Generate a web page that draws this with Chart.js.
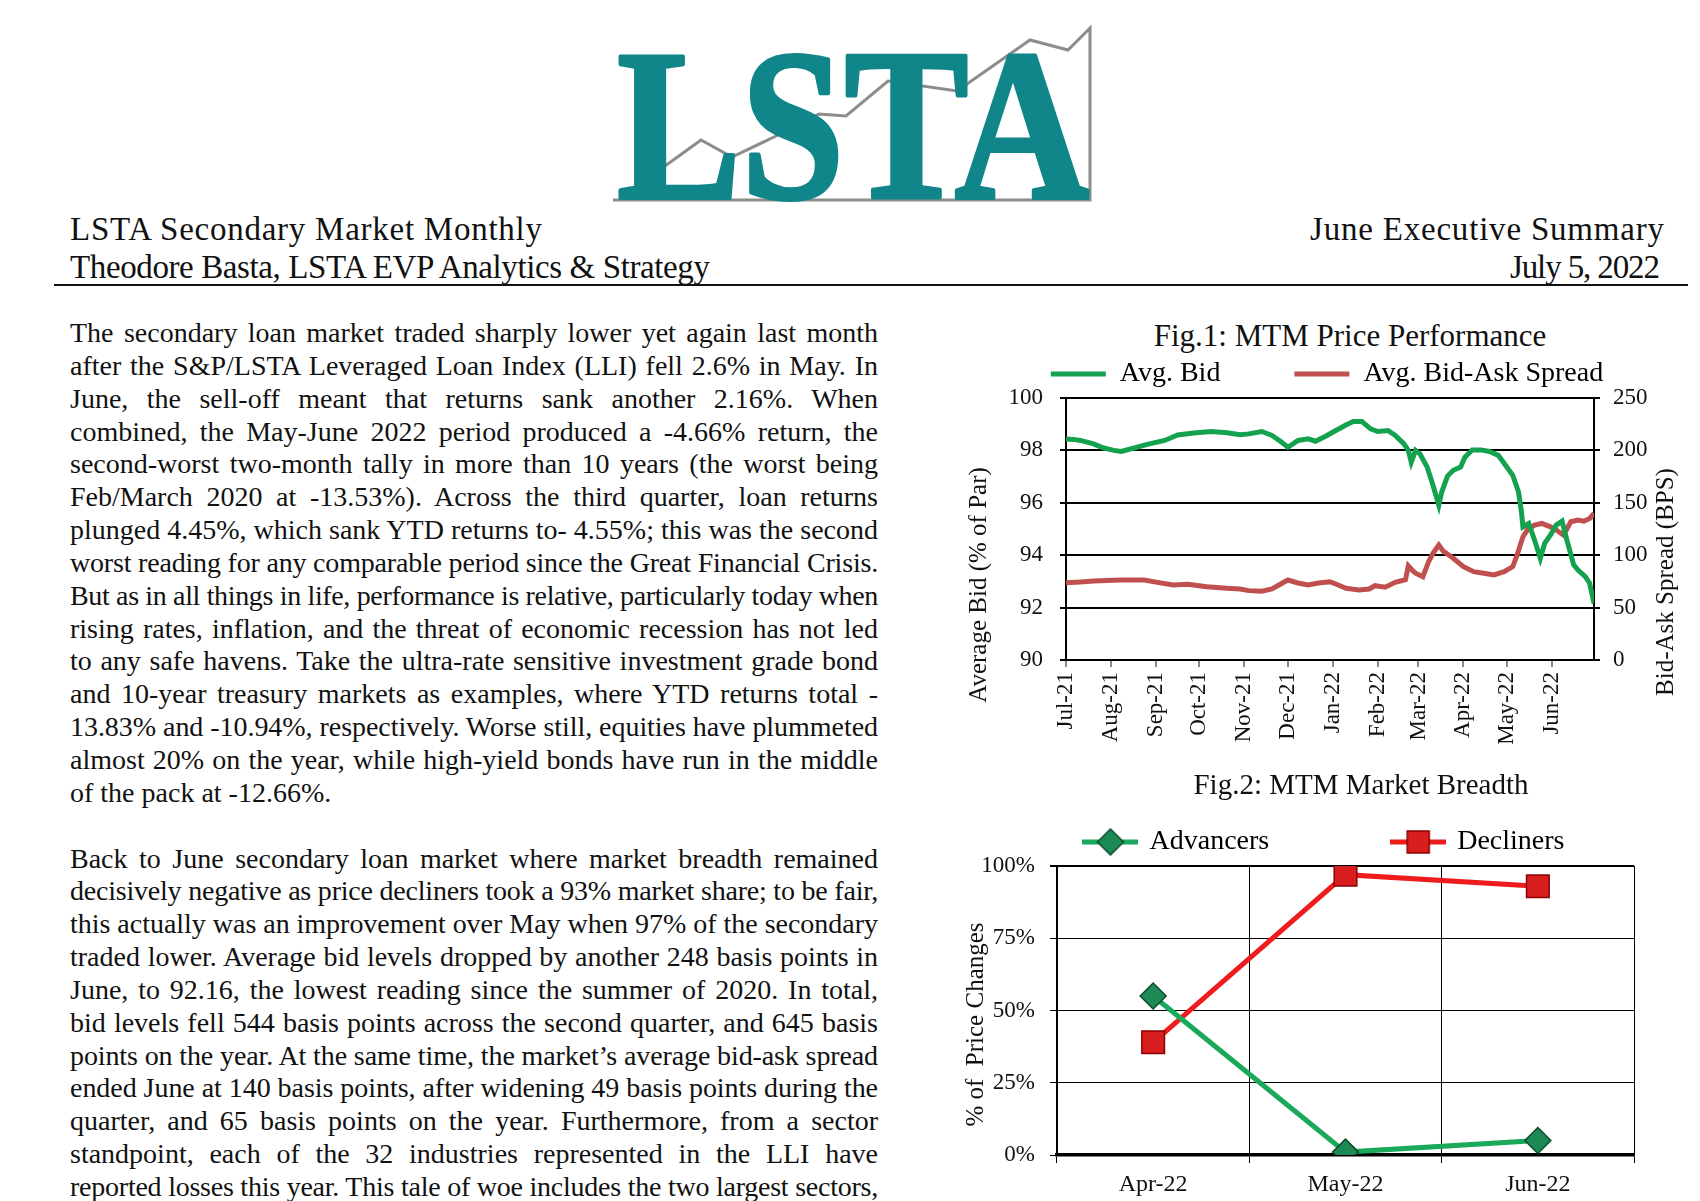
<!DOCTYPE html>
<html>
<head>
  <meta charset="utf-8">
  <title>LSTA Secondary Market Monthly</title>
  <script src="https://cdn.jsdelivr.net/npm/chart.js"></script>
  <style>
    body { margin: 0; width: 1700px; height: 1201px; position: relative; overflow: hidden; background: #fff;
           font-family: "Liberation Serif", "Times New Roman", serif; color: #111; }
    .abs { position: absolute; white-space: nowrap; }
    .head { font-size: 33px; line-height: 36px; }
    .rule { position: absolute; left: 54px; top: 284px; width: 1634px; height: 1.5px; background: #111; }
    .col { position: absolute; left: 70px; width: 808px; font-size: 28px; line-height: 32.85px; }
    .ln { height: 32.85px; white-space: nowrap; }
    .figtitle { position: absolute; white-space: nowrap; transform: translateX(-50%); }
    canvas { position: absolute; }
  </style>
</head>
<body>
  <svg class="abs" style="left:0;top:0" width="1700" height="215">
    <polyline points="665,166 701,140 732,157 774,137 819,114 846,116 888,81 957,91 1030,40 1068,50 1090,28 1090,200 613,200"
              fill="none" stroke="#8c8c8c" stroke-width="3"/>
    <text x="617" y="198" font-family="Liberation Serif" font-weight="bold" font-size="216" fill="#11868a"
          stroke="#11868a" stroke-width="4" stroke-linejoin="round"
          textLength="472" lengthAdjust="spacingAndGlyphs">LSTA</text>
  </svg>

  <div class="abs head" data-w="472" style="left:70px;top:211px"><span>LSTA Secondary Market Monthly</span></div>
  <div class="abs head" data-w="640" style="left:70px;top:249px"><span>Theodore Basta, LSTA EVP Analytics &amp; Strategy</span></div>
  <div class="abs head" data-w="354" style="left:1310px;top:211px"><span>June Executive Summary</span></div>
  <div class="abs head" data-w="150" style="left:1510px;top:249px"><span>July 5, 2022</span></div>
  <div class="rule"></div>

  <div class="col" id="para1" style="top:317px"></div>
  <div class="col" id="para2" style="top:842.5px"></div>

  <div class="figtitle" style="left:1350px;top:318px;font-size:31px">Fig.1: MTM Price Performance</div>
  <canvas id="priceChart" width="774" height="480" style="left:940px;top:290px"></canvas>

  <div class="figtitle" style="left:1361px;top:768px;font-size:29px">Fig.2: MTM Market Breadth</div>
  <canvas id="breadthChart" width="770" height="441" style="left:940px;top:760px"></canvas>

  <script>
    // ---- body text, line by line as in the original layout ----
    const para1 = [
      "The secondary loan market traded sharply lower yet again last month",
      "after the S&P/LSTA Leveraged Loan Index (LLI) fell 2.6% in May.  In",
      "June, the sell-off meant that returns sank another 2.16%.  When",
      "combined, the May-June 2022 period produced a -4.66% return, the",
      "second-worst two-month tally in more than 10 years (the worst being",
      "Feb/March 2020 at -13.53%).  Across the third quarter, loan returns",
      "plunged 4.45%, which sank YTD returns to- 4.55%; this was the second",
      "worst reading for any comparable period since the Great Financial Crisis.",
      "But as in all things in life, performance is relative, particularly today when",
      "rising rates, inflation, and the threat of economic recession has not led",
      "to any safe havens.  Take the ultra-rate sensitive investment grade bond",
      "and 10-year treasury markets as examples, where YTD returns total -",
      "13.83% and -10.94%, respectively.  Worse still, equities have plummeted",
      "almost 20% on the year, while high-yield bonds have run in the middle",
      "of the pack at -12.66%."
    ];
    const para2 = [
      "Back to June secondary loan market where market breadth remained",
      "decisively negative as price decliners took a 93% market share; to be fair,",
      "this actually was an improvement over May when 97% of the secondary",
      "traded lower.  Average bid levels dropped by another 248 basis points in",
      "June, to 92.16, the lowest reading since the summer of 2020.  In total,",
      "bid levels fell 544 basis points across the second quarter, and 645 basis",
      "points on the year.  At the same time, the market\u2019s average bid-ask spread",
      "ended June at 140 basis points, after widening 49 basis points during the",
      "quarter, and 65 basis points on the year.  Furthermore, from a sector",
      "standpoint, each of the 32 industries represented in the LLI have",
      "reported losses this year. This tale of woe includes the two largest sectors,"
    ];

    function setLines(id, lines, justifyLast) {
      const box = document.getElementById(id);
      lines.forEach((t, i) => {
        const d = document.createElement('div');
        d.className = 'ln';
        const s = document.createElement('span');
        s.textContent = t.replace(/  +/g, ' ');
        d.appendChild(s);
        box.appendChild(d);
        if (i === lines.length - 1 && !justifyLast) return;
        const extra = box.clientWidth - s.getBoundingClientRect().width;
        const spaces = (s.textContent.match(/ /g) || []).length;
        if (extra >= 0 && spaces) s.style.wordSpacing = (extra / spaces) + 'px';
        else s.style.letterSpacing = (extra / s.textContent.length) + 'px';
      });
    }
    setLines('para1', para1, false);
    setLines('para2', para2, true);

    // header lines are set a touch wider or tighter in the original
    document.querySelectorAll('.head').forEach(h => {
      const s = h.firstElementChild;
      const extra = +h.dataset.w - s.getBoundingClientRect().width;
      s.style.letterSpacing = (extra / (s.textContent.length - 1)) + 'px';
    });

    // ---- Fig.1 data: daily MTM readings (date, value) ----
    const axisStart = '2021-07-01';
    const axisEnd = '2022-06-30';
    const monthStarts = ['2021-07-01', '2021-08-01', '2021-09-01', '2021-10-01', '2021-11-01', '2021-12-01',
                         '2022-01-01', '2022-02-01', '2022-03-01', '2022-04-01', '2022-05-01', '2022-06-01'];
    const monthLabels = ['Jul-21', 'Aug-21', 'Sep-21', 'Oct-21', 'Nov-21', 'Dec-21',
                         'Jan-22', 'Feb-22', 'Mar-22', 'Apr-22', 'May-22', 'Jun-22'];

    const bidDates = [
      '2021-07-01', '2021-07-06', '2021-07-11', '2021-07-20', '2021-07-27', '2021-08-03', '2021-08-08',
      '2021-08-17', '2021-08-26', '2021-09-07', '2021-09-16', '2021-09-27', '2021-10-09', '2021-10-20',
      '2021-10-29', '2021-11-04', '2021-11-13', '2021-11-20', '2021-11-26', '2021-12-01', '2021-12-08',
      '2021-12-15', '2021-12-20', '2021-12-27', '2022-01-03', '2022-01-10', '2022-01-15', '2022-01-21',
      '2022-01-27', '2022-02-01', '2022-02-08', '2022-02-13', '2022-02-19', '2022-02-22', '2022-02-24',
      '2022-02-27', '2022-03-02', '2022-03-07', '2022-03-11', '2022-03-15', '2022-03-17', '2022-03-21',
      '2022-03-25', '2022-03-30', '2022-04-02', '2022-04-07', '2022-04-13', '2022-04-19', '2022-04-25',
      '2022-05-01', '2022-05-05', '2022-05-09', '2022-05-11', '2022-05-12', '2022-05-16', '2022-05-20',
      '2022-05-24', '2022-05-27', '2022-05-31', '2022-06-04', '2022-06-08', '2022-06-11', '2022-06-16',
      '2022-06-19', '2022-06-24', '2022-06-27', '2022-06-30'
    ];
    const bidValues = [
      98.44, 98.42, 98.38, 98.25, 98.09, 98.00, 97.96,
      98.09, 98.23, 98.38, 98.59, 98.66, 98.72, 98.67,
      98.60, 98.63, 98.72, 98.57, 98.34, 98.12, 98.38,
      98.44, 98.35, 98.54, 98.76, 98.97, 99.10, 99.10,
      98.82, 98.72, 98.76, 98.57, 98.25, 98.00, 97.55,
      98.00, 97.87, 97.36, 96.67, 95.91, 96.41, 97.02,
      97.24, 97.36, 97.74, 98.02, 98.02, 97.96, 97.81,
      97.36, 97.05, 96.41, 95.65, 95.08, 95.21, 94.58,
      93.88, 94.45, 94.77, 95.15, 95.30, 94.64, 93.63,
      93.43, 93.18, 92.93, 92.16
    ];

    const spreadDates = [
      '2021-07-01', '2021-07-11', '2021-07-20', '2021-08-08', '2021-08-24', '2021-09-02', '2021-09-13',
      '2021-09-23', '2021-10-06', '2021-10-20', '2021-10-29', '2021-11-04', '2021-11-13', '2021-11-20',
      '2021-11-26', '2021-12-01', '2021-12-08', '2021-12-15', '2021-12-22', '2021-12-30', '2022-01-03',
      '2022-01-10', '2022-01-19', '2022-01-26', '2022-01-30', '2022-02-06', '2022-02-13', '2022-02-20',
      '2022-02-22', '2022-02-25', '2022-02-27', '2022-03-04', '2022-03-08', '2022-03-11', '2022-03-15',
      '2022-03-18', '2022-03-25', '2022-04-01', '2022-04-08', '2022-04-15', '2022-04-22', '2022-04-29',
      '2022-05-05', '2022-05-08', '2022-05-12', '2022-05-15', '2022-05-20', '2022-05-25', '2022-05-31',
      '2022-06-04', '2022-06-09', '2022-06-14', '2022-06-19', '2022-06-23', '2022-06-27', '2022-06-30'
    ];
    const spreadValues = [
      73.8, 74.5, 75.4, 76.3, 76.3, 74.1, 71.6,
      72.2, 70.0, 68.4, 67.8, 66.2, 65.6, 67.8,
      72.5, 76.3, 73.5, 71.6, 73.5, 74.7, 72.5,
      68.4, 66.8, 67.8, 70.9, 69.4, 74.1, 76.6,
      89.9, 85.2, 82.9, 79.5, 93.8, 101.7, 109.6,
      104.0, 97.0, 89.1, 84.3, 82.7, 81.2, 84.3,
      89.1, 100.2, 117.6, 124.0, 128.7, 130.3, 127.1,
      124.0, 119.2, 131.9, 133.5, 132.5, 135.1, 140.0
    ];

    // ---- Fig.2 data ----
    const breadthMonths = ['Apr-22', 'May-22', 'Jun-22'];
    const advancers = [55, 1, 5];
    const decliners = [39, 97, 93];

    const dayOf = d => (Date.parse(d) - Date.parse(axisStart)) / 86400000;
    const serif = 'Liberation Serif';
    const ink = '#111';

    // rotated axis titles, centred a little below the plot like the original
    const sideTitles = {
      id: 'sideTitles',
      afterDraw(chart, args, opts) {
        const {ctx, chartArea} = chart;
        (opts.items || []).forEach(t => {
          const x = t.side === 'left' ? chartArea.left - t.gap : chartArea.right + t.gap;
          ctx.save();
          ctx.translate(x, (chartArea.top + chartArea.bottom) / 2 + t.dy);
          ctx.rotate(-Math.PI / 2);
          ctx.font = t.size + 'px "' + serif + '"';
          ctx.fillStyle = ink;
          ctx.textAlign = 'center';
          ctx.textBaseline = 'middle';
          ctx.fillText(t.text, 0, 0);
          ctx.restore();
        });
      }
    };

    const gap = n => ' '.repeat(n);

    new Chart(document.getElementById('priceChart'), {
      type: 'line',
      data: {
        datasets: [{
          label: 'Avg. Bid',
          data: bidDates.map((d, i) => ({x: dayOf(d), y: bidValues[i]})),
          borderColor: '#14a24f',
          backgroundColor: '#14a24f',
          borderWidth: 5,
          pointRadius: 0,
          yAxisID: 'y'
        }, {
          label: 'Avg. Bid-Ask Spread',
          data: spreadDates.map((d, i) => ({x: dayOf(d), y: spreadValues[i]})),
          borderColor: '#c0504d',
          backgroundColor: '#c0504d',
          borderWidth: 5,
          pointRadius: 0,
          yAxisID: 'y1'
        }]
      },
      options: {
        responsive: false,
        animation: false,
        layout: {padding: {top: 66, left: 0, right: 0, bottom: 0}},
        plugins: {
          tooltip: {enabled: false},
          legend: {
            labels: {
              font: {family: serif, size: 28},
              color: ink,
              boxWidth: 55,
              boxHeight: 5,
              padding: 4,
              generateLabels: chart => chart.data.datasets.map((ds, i) => ({
                text: ds.label + (i === 0 ? gap(10) : ''),
                fillStyle: ds.borderColor,
                strokeStyle: ds.borderColor,
                lineWidth: 0,
                hidden: false,
                datasetIndex: i
              }))
            }
          },
          sideTitles: {
            items: [
              {text: 'Average Bid (% of Par)', side: 'left', gap: 87, dy: 56, size: 25},
              {text: 'Bid-Ask Spread (BPS)', side: 'right', gap: 72, dy: 53, size: 25}
            ]
          }
        },
        scales: {
          x: {
            type: 'linear',
            min: 0,
            max: dayOf(axisEnd),
            afterBuildTicks: s => { s.ticks = monthStarts.map(d => ({value: dayOf(d)})); },
            afterFit: s => { s.height = 110; },
            ticks: {
              callback: (v, i) => monthLabels[i],
              autoSkip: false,
              minRotation: 90,
              maxRotation: 90,
              padding: 5,
              color: ink,
              font: {family: serif, size: 23}
            },
            grid: {drawOnChartArea: false, color: '#888', lineWidth: 2, tickLength: 7},
            border: {color: '#000', width: 2}
          },
          y: {
            position: 'left',
            min: 90,
            max: 100,
            afterFit: s => { s.width = 126; },
            ticks: {stepSize: 2, padding: 17, color: ink, font: {family: serif, size: 23}},
            grid: {color: '#000', lineWidth: 2, tickLength: 6},
            border: {color: '#000', width: 2}
          },
          y1: {
            position: 'right',
            min: 0,
            max: 250,
            afterFit: s => { s.width = 120; },
            ticks: {stepSize: 50, padding: 13, color: ink, font: {family: serif, size: 23}},
            grid: {drawOnChartArea: false, color: '#000', lineWidth: 2, tickLength: 6},
            border: {color: '#000', width: 2}
          }
        }
      },
      plugins: [sideTitles]
    });

    // legend symbol for Fig.2: the series line with its marker on it
    function legendMarker(lineColor, shape, fill, edge) {
      const c = document.createElement('canvas');
      c.width = 56; c.height = 28;
      const g = c.getContext('2d');
      g.strokeStyle = lineColor; g.lineWidth = 5;
      g.beginPath(); g.moveTo(0, 14); g.lineTo(56, 14); g.stroke();
      g.fillStyle = fill; g.strokeStyle = edge; g.lineWidth = 1.5;
      g.beginPath();
      if (shape === 'diamond') { g.moveTo(28, 1); g.lineTo(41, 14); g.lineTo(28, 27); g.lineTo(15, 14); g.closePath(); }
      else g.rect(17, 3, 22, 22);
      g.fill(); g.stroke();
      return c;
    }
    const advStyle = {line: '#1aa85a', fill: '#1d8a55', edge: '#0b4d2c'};
    const decStyle = {line: '#ee1c1c', fill: '#d81e1e', edge: '#8b0000'};

    new Chart(document.getElementById('breadthChart'), {
      type: 'line',
      data: {
        labels: breadthMonths,
        datasets: [{
          label: 'Advancers',
          data: advancers,
          borderColor: advStyle.line,
          borderWidth: 5,
          pointStyle: 'rectRot',
          pointRadius: 13,
          pointBackgroundColor: advStyle.fill,
          pointBorderColor: advStyle.edge,
          pointBorderWidth: 1.5,
          legendIcon: legendMarker(advStyle.line, 'diamond', advStyle.fill, advStyle.edge)
        }, {
          label: 'Decliners',
          data: decliners,
          borderColor: decStyle.line,
          borderWidth: 5,
          pointStyle: 'rect',
          pointRadius: 16,
          pointBackgroundColor: decStyle.fill,
          pointBorderColor: decStyle.edge,
          pointBorderWidth: 1.5,
          legendIcon: legendMarker(decStyle.line, 'square', decStyle.fill, decStyle.edge)
        }]
      },
      options: {
        responsive: false,
        animation: false,
        layout: {padding: {top: 56, left: 0, right: 0, bottom: 0}},
        plugins: {
          tooltip: {enabled: false},
          legend: {
            labels: {
              font: {family: serif, size: 28},
              color: ink,
              usePointStyle: true,
              pointStyleWidth: 50,
              padding: 12,
              generateLabels: chart => chart.data.datasets.map((ds, i) => ({
                text: ds.label + (i === 0 ? gap(16) : ''),
                pointStyle: ds.legendIcon,
                fillStyle: ds.borderColor,
                strokeStyle: ds.borderColor,
                lineWidth: 0,
                hidden: false,
                datasetIndex: i
              }))
            }
          },
          sideTitles: {
            items: [{text: '% of  Price Changes', side: 'left', gap: 81, dy: 14, size: 25}]
          }
        },
        scales: {
          x: {
            offset: true,
            afterFit: s => { s.height = 46; },
            ticks: {padding: 7, color: ink, font: {family: serif, size: 24}},
            grid: {offset: true, color: '#000', lineWidth: c => (c.index === 3 ? 2 : 1), tickLength: 8},
            border: {color: '#000', width: 3.5}
          },
          y: {
            min: 0,
            max: 100,
            afterFit: s => { s.width = 117; },
            ticks: {stepSize: 25, padding: 15, color: ink, font: {family: serif, size: 23}, callback: v => v + '%'},
            grid: {color: '#000', lineWidth: c => (c.tick && c.tick.value === 100 ? 2 : 1), tickLength: 7},
            border: {color: '#000', width: 2}
          },
          spacer: {
            position: 'right',
            afterFit: s => { s.width = 76; },
            ticks: {display: false},
            grid: {display: false},
            border: {display: false}
          }
        }
      },
      plugins: [sideTitles]
    });
  </script>
</body>
</html>
